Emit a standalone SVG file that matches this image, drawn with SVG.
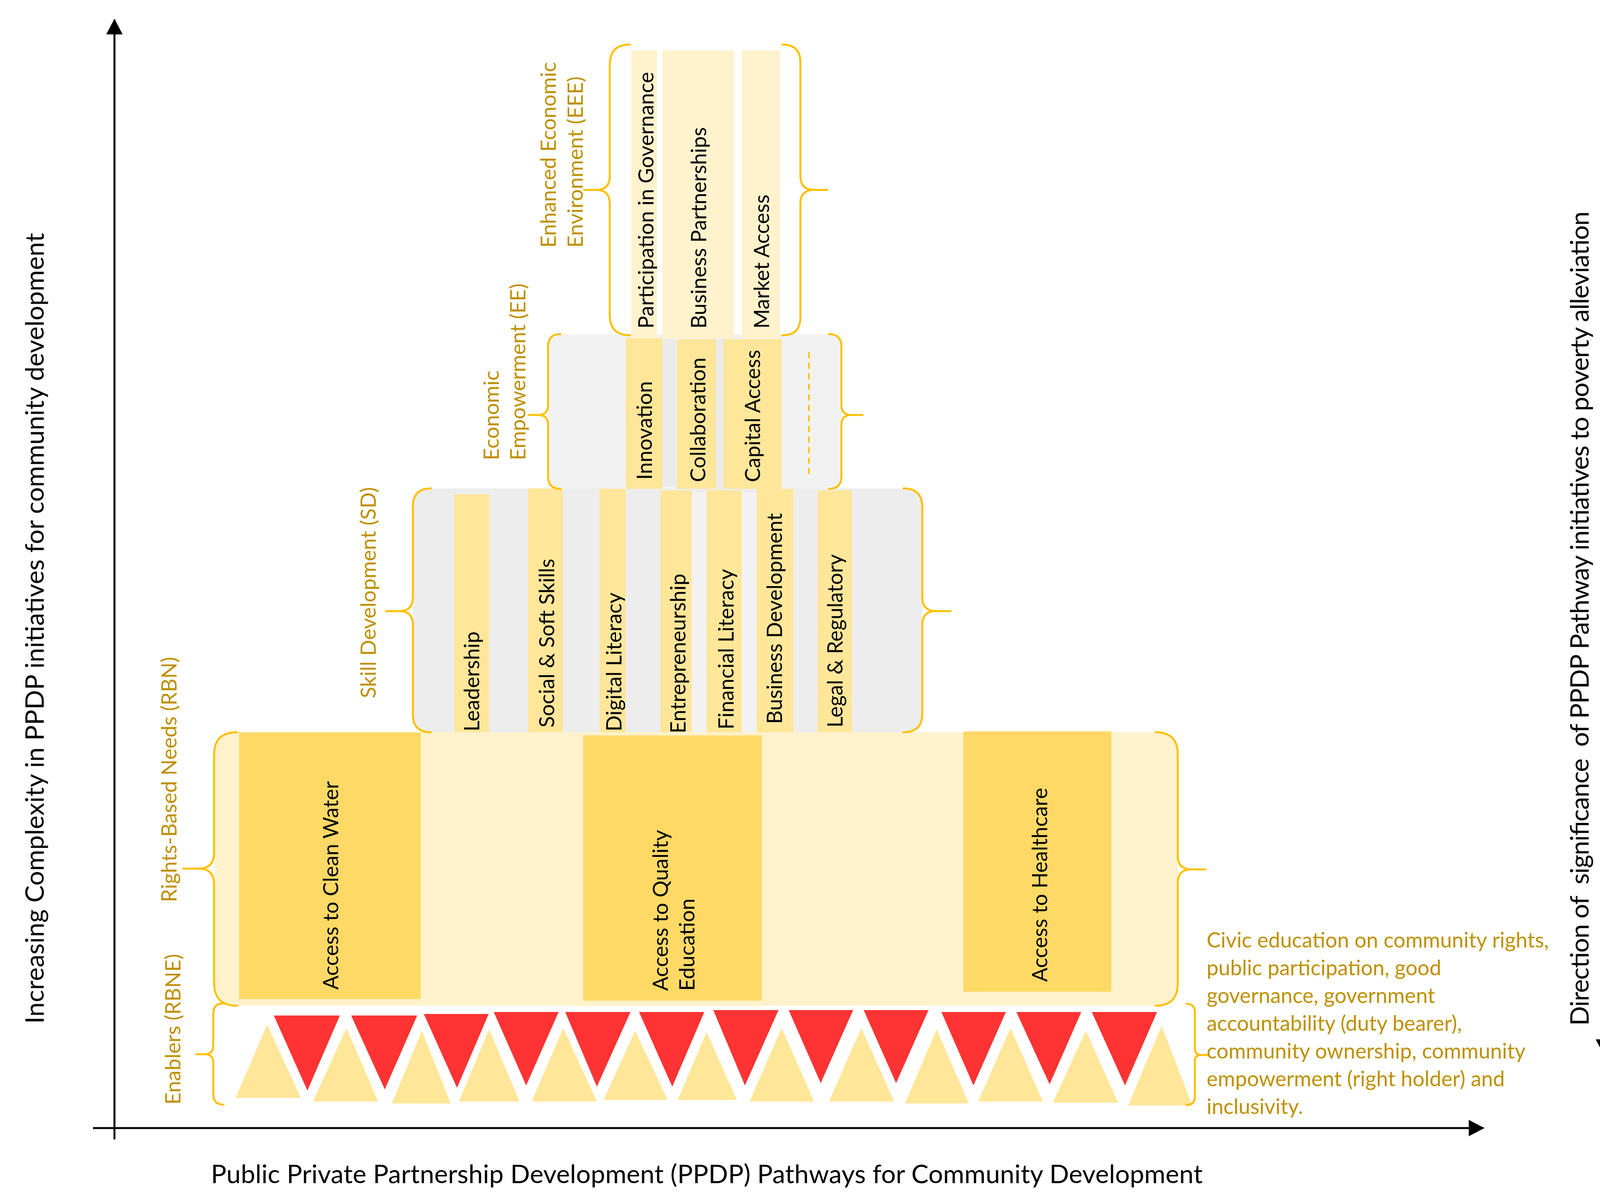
<svg xmlns="http://www.w3.org/2000/svg" width="4162" height="3066" viewBox="0 0 4162 3066">
<style>
.brace{fill:none;stroke:#FFC000;stroke-width:5;stroke-linecap:round;stroke-linejoin:round}
.t{font-family:Lato,"Liberation Sans",sans-serif;font-size:54px;fill:#000}
.g{font-family:Lato,"Liberation Sans",sans-serif;font-size:54px;fill:#BF9000}
.ax{font-family:Lato,"Liberation Sans",sans-serif;font-size:66px;fill:#000}
.c1{fill:#FFF2CC}.c2{fill:#FFE699}.c3{fill:#FFD966}
.red{fill:#FF3333}.tan{fill:#FFE699}
.axis{stroke:#000;stroke-width:5;fill:none}
.dash{stroke:#FFC000;stroke-width:4;stroke-dasharray:16 11;fill:none}
</style>
<defs>
<marker id="arr" markerUnits="userSpaceOnUse" markerWidth="40" markerHeight="42" viewBox="0 0 40 42" refX="38" refY="21" orient="auto">
<path d="M0,0 L40,21 L0,42 Z" fill="#000"/>
</marker>
</defs>
<rect width="4162" height="3066" fill="#fff"/>

<g id="connectors">
<path class="axis" d="M293,2916 L293,50" marker-end="url(#arr)"/>
<path class="axis" d="M238,2887 L3798,2887" marker-end="url(#arr)"/>
<path class="axis" d="M4106,558 L4106,2698" marker-end="url(#arr)"/>
</g>

<g id="axis-labels">
<text class="ax" transform="translate(112,2620) rotate(-90)" textLength="2024" lengthAdjust="spacing">Increasing Complexity in PPDP initiatives for community development</text>
<text class="ax" transform="translate(4067,2625) rotate(-90)" textLength="2084" lengthAdjust="spacing" xml:space="preserve">Direction of  significance  of PPDP Pathway initiatives to poverty alleviation</text>
<text class="ax" x="540" y="3028" textLength="2539" lengthAdjust="spacing">Public Private Partnership Development (PPDP) Pathways for Community Development</text>
</g>

<g id="rbn">
<rect x="550" y="1874" width="2465" height="700" rx="58" class="c1"/>
<rect x="612" y="1874" width="465" height="683" class="c3"/>
<rect x="1493" y="1882" width="457" height="679" class="c3"/>
<rect x="2466" y="1872" width="379" height="666" class="c3"/>
<text class="t" transform="translate(866,2533) rotate(-90)">Access to Clean Water</text>
<text class="t" transform="translate(1710,2536) rotate(-90)">Access to Quality</text>
<text class="t" transform="translate(1778,2536) rotate(-90)">Education</text>
<text class="t" transform="translate(2681,2513) rotate(-90)">Access to Healthcare</text>
<path class="brace" d="M607 1874 Q548 1874 548 1933 L548 2183 Q548 2223 508 2223 L469 2223 M508 2223 Q548 2223 548 2263 L548 2515 Q548 2574 607 2574"/>
<path class="brace" d="M2958 1874 Q3015 1874 3015 1931 L3015 2190 Q3015 2225 3050 2225 L3086 2225 M3050 2225 Q3015 2225 3015 2260 L3015 2517 Q3015 2574 2958 2574"/>
<text class="g" transform="translate(452,2309) rotate(-90)">Rights-Based Needs (RBN)</text>
</g>

<g id="sd">
<rect x="1057" y="1250" width="1304" height="624" rx="46" fill="#EDEDED"/>
<rect x="1771" y="1260" width="38" height="614" fill="#F2F2F2"/>
<rect x="1899" y="1260" width="38" height="614" fill="#F2F2F2"/>
<rect x="1163" y="1265" width="89" height="609" class="c2"/>
<rect x="1352" y="1250" width="89" height="624" class="c2"/>
<rect x="1535" y="1250" width="67" height="624" class="c2"/>
<rect x="1691" y="1255" width="80" height="619" class="c2"/>
<rect x="1809" y="1255" width="90" height="619" class="c2"/>
<rect x="1937" y="1250" width="94" height="624" class="c2"/>
<rect x="2093" y="1255" width="88" height="619" class="c2"/>
<text class="t" transform="translate(1227,1872) rotate(-90)">Leadership</text>
<text class="t" transform="translate(1419,1862) rotate(-90)">Social &amp; Soft Skills</text>
<text class="t" transform="translate(1591,1872) rotate(-90)">Digital Literacy</text>
<text class="t" transform="translate(1755,1877) rotate(-90)">Entrepreneurship</text>
<text class="t" transform="translate(1878,1867) rotate(-90)">Financial Literacy</text>
<text class="t" transform="translate(2002,1853) rotate(-90)">Business Development</text>
<text class="t" transform="translate(2157,1862) rotate(-90)">Legal &amp; Regulatory</text>
<path class="brace" d="M1103 1250 Q1057 1250 1057 1296 L1057 1529 Q1057 1564 1022 1564 L988 1564 M1022 1564 Q1057 1564 1057 1599 L1057 1828 Q1057 1874 1103 1874"/>
<path class="brace" d="M2313 1250 Q2361 1250 2361 1298 L2361 1529 Q2361 1564 2396 1564 L2433 1564 M2396 1564 Q2361 1564 2361 1599 L2361 1826 Q2361 1874 2313 1874"/>
<text class="g" transform="translate(962,1787) rotate(-90)">Skill Development (SD)</text>
</g>

<g id="ee">
<rect x="1403" y="855" width="751" height="396" rx="32" fill="#F2F2F2"/>
<rect x="1696" y="868" width="37" height="377" fill="#EBEBEB"/>
<rect x="1833" y="868" width="19" height="383" fill="#EBEBEB"/>
<rect x="1602" y="865" width="94" height="386" class="c2"/>
<rect x="1733" y="868" width="100" height="383" class="c2"/>
<rect x="1852" y="868" width="149" height="383" class="c2"/>
<path class="dash" d="M2071 901 L2071 1213"/>
<text class="t" transform="translate(1669,1228) rotate(-90)">Innovation</text>
<text class="t" transform="translate(1806,1234) rotate(-90)">Collaboration</text>
<text class="t" transform="translate(1946,1234) rotate(-90)">Capital Access</text>
<path class="brace" d="M1435 855 Q1403 855 1403 887 L1403 1037 Q1403 1062 1378 1062 L1353 1062 M1378 1062 Q1403 1062 1403 1087 L1403 1219 Q1403 1251 1435 1251"/>
<path class="brace" d="M2122 855 Q2154 855 2154 887 L2154 1037 Q2154 1062 2179 1062 L2208 1062 M2179 1062 Q2154 1062 2154 1087 L2154 1219 Q2154 1251 2122 1251"/>
<text class="g" transform="translate(1277,1178) rotate(-90)">Economic</text>
<text class="g" transform="translate(1345,1178) rotate(-90)">Empowerment (EE)</text>
</g>

<g id="eee">
<rect x="1616" y="129" width="66" height="737" class="c1"/>
<rect x="1696" y="129" width="183" height="737" class="c1"/>
<rect x="1899" y="129" width="98" height="737" class="c1"/>
<text class="t" transform="translate(1673,841) rotate(-90)">Participation in Governance</text>
<text class="t" transform="translate(1808,841) rotate(-90)">Business Partnerships</text>
<text class="t" transform="translate(1969,841) rotate(-90)">Market Access</text>
<path class="brace" d="M1613 114 Q1561 114 1561 166 L1561 451 Q1561 486 1526 486 L1495 486 M1526 486 Q1561 486 1561 521 L1561 806 Q1561 858 1613 858"/>
<path class="brace" d="M2003 114 Q2049 114 2049 160 L2049 451 Q2049 486 2084 486 L2118 486 M2084 486 Q2049 486 2049 521 L2049 812 Q2049 858 2003 858"/>
<text class="g" transform="translate(1423,634) rotate(-90)">Enhanced Economic</text>
<text class="g" transform="translate(1492,634) rotate(-90)">Environment (EEE)</text>
</g>

<g id="enablers">
<polygon class="tan" points="603,2810 770,2810 684,2622"/>
<polygon class="tan" points="801,2819 968,2819 887,2631"/>
<polygon class="tan" points="1003,2824 1154,2824 1080,2638"/>
<polygon class="tan" points="1175,2819 1330,2819 1252,2634"/>
<polygon class="tan" points="1361,2819 1528,2819 1442,2631"/>
<polygon class="tan" points="1545,2815 1709,2815 1626,2638"/>
<polygon class="tan" points="1735,2815 1886,2815 1809,2641"/>
<polygon class="tan" points="1919,2819 2084,2819 2001,2631"/>
<polygon class="tan" points="2122,2819 2289,2819 2205,2631"/>
<polygon class="tan" points="2317,2824 2480,2824 2398,2634"/>
<polygon class="tan" points="2504,2819 2670,2819 2587,2631"/>
<polygon class="tan" points="2695,2822 2862,2822 2780,2638"/>
<polygon class="tan" points="2888,2829 3052,2829 2974,2625"/>
<polygon class="red" points="701,2599 870,2599 787,2791"/>
<polygon class="red" points="899,2599 1068,2599 985,2788"/>
<polygon class="red" points="1085,2595 1251,2595 1170,2784"/>
<polygon class="red" points="1264,2590 1430,2590 1347,2778"/>
<polygon class="red" points="1447,2590 1614,2590 1528,2781"/>
<polygon class="red" points="1636,2590 1803,2590 1721,2781"/>
<polygon class="red" points="1826,2585 1993,2585 1907,2778"/>
<polygon class="red" points="2019,2585 2184,2585 2101,2772"/>
<polygon class="red" points="2211,2585 2377,2585 2294,2772"/>
<polygon class="red" points="2410,2590 2575,2590 2492,2778"/>
<polygon class="red" points="2602,2590 2768,2590 2687,2775"/>
<polygon class="red" points="2795,2590 2962,2590 2880,2778"/>
<path class="brace" d="M572 2568 Q546 2568 546 2594 L546 2676 Q546 2698 524 2698 L502 2698 M524 2698 Q546 2698 546 2720 L546 2801 Q546 2827 572 2827"/>
<path class="brace" d="M3037 2569 Q3059 2569 3059 2591 L3059 2684 Q3059 2700 3075 2700 L3090 2700 M3075 2700 Q3059 2700 3059 2716 L3059 2806 Q3059 2828 3037 2828"/>
<text class="g" transform="translate(462,2827) rotate(-90)">Enablers (RBNE)</text>
</g>

<g id="civic-note">
<text class="g" x="3089" y="2425">Civic education on community rights,</text>
<text class="g" x="3089" y="2496">public participation, good</text>
<text class="g" x="3089" y="2567">governance, government</text>
<text class="g" x="3089" y="2638">accountability (duty bearer),</text>
<text class="g" x="3089" y="2709">community ownership, community</text>
<text class="g" x="3089" y="2780">empowerment (right holder) and</text>
<text class="g" x="3089" y="2851">inclusivity.</text>
</g>
</svg>
